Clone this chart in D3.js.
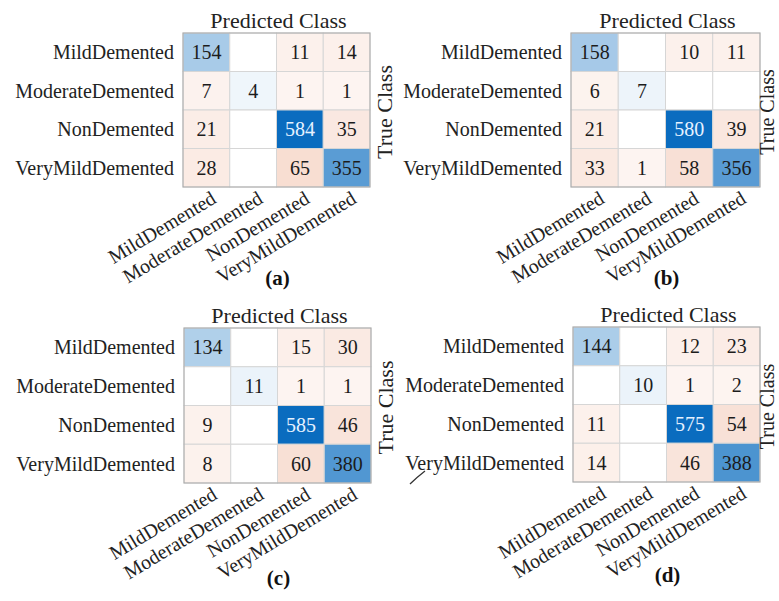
<!DOCTYPE html>
<html>
<head>
<meta charset="utf-8">
<script src="https://cdn.jsdelivr.net/npm/d3@7/dist/d3.min.js"></script>
<style>
  html, body { margin: 0; padding: 0; background: #fff; }
  svg { display: block; }
  text { font-family: "Liberation Serif", "Times New Roman", serif; }
</style>
</head>
<body>
<svg id="chart" width="779" height="601"></svg>
<script>
// Class names shared by all four confusion matrices
const classes = ["MildDemented", "ModerateDemented", "NonDemented", "VeryMildDemented"];

// Confusion matrices: rows = true class, columns = predicted class
const matrixA = [[154, 0, 11, 14], [7, 4, 1, 1], [21, 0, 584, 35], [28, 0, 65, 355]];
const matrixB = [[158, 0, 10, 11], [6, 7, 0, 0], [21, 0, 580, 39], [33, 1, 58, 356]];
const matrixC = [[134, 0, 15, 30], [0, 11, 1, 1], [9, 0, 585, 46], [8, 0, 60, 380]];
const matrixD = [[144, 0, 12, 23], [0, 10, 1, 2], [11, 0, 575, 54], [14, 0, 46, 388]];

const panelLabels = ["(a)", "(b)", "(c)", "(d)"];
const xTitle = "Predicted Class";
const yTitle = "True Class";

// Panel placement (grid box of each matrix)
const panels = [
  { m: matrixA, x0: 183, x1: 370, y0: 33,  y1: 187, cap: 285 },
  { m: matrixB, x0: 571, x1: 760, y0: 33,  y1: 187, cap: 285 },
  { m: matrixC, x0: 184, x1: 371, y0: 328, y1: 483, cap: 585 },
  { m: matrixD, x0: 573, x1: 760, y0: 327, y1: 482, cap: 582 }
];

const svg = d3.select("#chart");
const white = "#ffffff";
const diagColor = d3.interpolateRgb(white, "#0a6cbf");
const offColor = d3.interpolateRgb(white, "#d95319");

panels.forEach((p, pi) => {
  const g = svg.append("g");
  const maxV = d3.max(p.m.flat());
  const x = d3.scaleBand().domain(d3.range(classes.length)).range([p.x0, p.x1]);
  const y = d3.scaleBand().domain(d3.range(classes.length)).range([p.y0, p.y1]);

  const cells = [];
  p.m.forEach((row, r) => row.forEach((v, c) => cells.push({ r, c, v })));

  const shade = d => {
    if (d.v === 0) return white;
    const f = d.v / maxV;
    if (d.r === d.c) return diagColor(0.05 + 0.95 * Math.pow(f, 0.85));
    return offColor(Math.min(0.06 + 1.2 * f, 1));
  };
  const dark = d => d.r === d.c && d.v / maxV > 0.8;

  g.selectAll("rect.cell").data(cells).join("rect")
    .attr("class", "cell")
    .attr("x", d => x(d.c)).attr("y", d => y(d.r))
    .attr("width", x.bandwidth()).attr("height", y.bandwidth())
    .attr("fill", shade)
    .attr("stroke", "#d6d6d6").attr("stroke-width", 1);

  g.append("rect")
    .attr("x", p.x0).attr("y", p.y0)
    .attr("width", p.x1 - p.x0).attr("height", p.y1 - p.y0)
    .attr("fill", "none").attr("stroke", "#a9a9a9").attr("stroke-width", 1);

  g.selectAll("text.val").data(cells.filter(d => d.v > 0)).join("text")
    .attr("class", "val")
    .attr("x", d => x(d.c) + x.bandwidth() / 2)
    .attr("y", d => y(d.r) + y.bandwidth() / 2 + 7)
    .attr("text-anchor", "middle")
    .attr("font-size", 20)
    .attr("fill", d => dark(d) ? "#e6f2ff" : "#1c1c1c")
    .text(d => d.v);

  // row (true class) labels
  g.selectAll("text.row").data(classes).join("text")
    .attr("class", "row")
    .attr("x", p.x0 - 9)
    .attr("y", (d, i) => y(i) + y.bandwidth() / 2 + 7)
    .attr("text-anchor", "end")
    .attr("font-size", 20)
    .attr("fill", "#222")
    .text(d => d);

  // column (predicted class) labels, slanted
  g.selectAll("text.col").data(classes).join("text")
    .attr("class", "col")
    .attr("transform", (d, i) => `translate(${x(i) + x.bandwidth() / 2 + 11},${p.y1 + 15}) rotate(-31)`)
    .attr("text-anchor", "end")
    .attr("font-size", 20)
    .attr("fill", "#222")
    .text(d => d);

  g.append("text")
    .attr("x", (p.x0 + p.x1) / 2 + 2).attr("y", p.y0 - 5)
    .attr("text-anchor", "middle").attr("font-size", 22).attr("fill", "#222")
    .text(xTitle);

  // vertical axis title; the right-hand panels squeeze it against the page edge
  const edge = p.x1 + 22 > 772;
  g.append("text")
    .attr("transform", `translate(${edge ? 774 : p.x1 + 22},${(p.y0 + p.y1) / 2 + 2}) rotate(-90)`)
    .attr("text-anchor", "middle").attr("font-size", edge ? 20 : 22).attr("fill", "#222")
    .text(yTitle);

  g.append("text")
    .attr("x", (p.x0 + p.x1) / 2 + 1).attr("y", p.cap)
    .attr("text-anchor", "middle").attr("font-size", 21).attr("font-weight", "bold")
    .attr("fill", "#111")
    .text(panelLabels[pi]);
});

// small pen stroke beside the last panel's bottom row label
svg.append("path")
  .attr("d", "M410,484 Q416,478 425,471")
  .attr("fill", "none").attr("stroke", "#333").attr("stroke-width", 1.3);
</script>
</body>
</html>
